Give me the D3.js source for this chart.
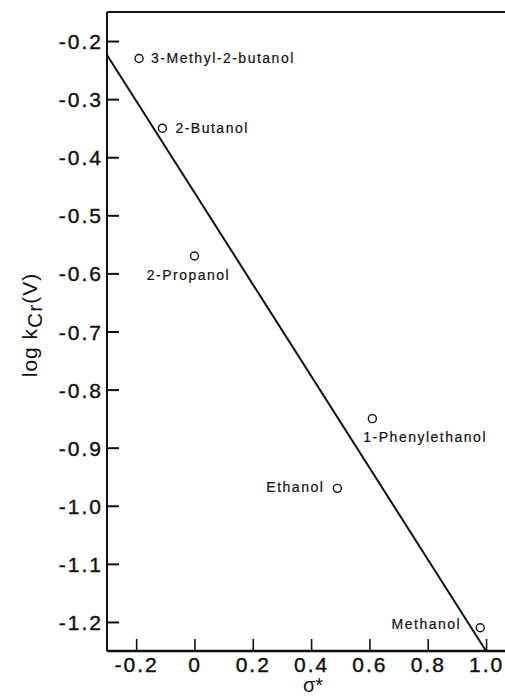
<!DOCTYPE html>
<html>
<head>
<meta charset="utf-8">
<script src="https://cdn.jsdelivr.net/npm/d3@7"></script>
<style>
body { margin:0; background:#fff; }
text { font-family: "Liberation Sans", Arial, sans-serif; fill:#111; }
</style>
</head>
<body>
<div id="chart"></div>
<script>

// data
var alcohols = ["3-Methyl-2-butanol", "2-Butanol", "2-Propanol", "1-Phenylethanol", "Ethanol", "Methanol"];
var sigmaStar = [-0.19, -0.11, 0.0, 0.61, 0.49, 0.98];
var logK = [-0.23, -0.35, -0.57, -0.85, -0.97, -1.21];
var fitX = [-0.3, 1.0];
var fitY = [-0.224, -1.25];
var xTicks = [-0.2, 0, 0.2, 0.4, 0.6, 0.8, 1.0];
var yTicks = [-0.2, -0.3, -0.4, -0.5, -0.6, -0.7, -0.8, -0.9, -1.0, -1.1, -1.2];

var W = 505, H = 697;
var margin = {left: 107, top: 12, right: 0, bottom: 46};

var svg = d3.select("#chart").append("svg")
    .attr("width", W)
    .attr("height", H);

var x = d3.scaleLinear().domain([-0.3, 1.065]).range([margin.left, W - margin.right]);
var y = d3.scaleLinear().domain([-1.25, -0.15]).range([H - margin.bottom, margin.top]);

function fmt(d) { return d === 0 ? "0" : d3.format(".1f")(d).replace("−", "-"); }

// y axis: ticks point inward
var yAxis = d3.axisRight(y).tickValues(yTicks).tickSize(12);
var gy = svg.append("g").attr("transform", "translate(" + margin.left + ",0)").call(yAxis);
gy.select(".domain").remove();
gy.selectAll(".tick line").attr("stroke", "#111").attr("stroke-width", 2);
gy.selectAll(".tick text")
    .attr("x", -4).attr("dy", "0.36em")
    .attr("text-anchor", "end")
    .style("font-size", "21px").style("letter-spacing", "2px")
    .style("stroke", "#111").style("stroke-width", 0.4)
    .text(fmt);

var xAxis = d3.axisTop(x).tickValues(xTicks).tickSize(12);
var gx = svg.append("g").attr("transform", "translate(0," + y(-1.25) + ")").call(xAxis);
gx.select(".domain").remove();
gx.selectAll(".tick line").attr("stroke", "#111").attr("stroke-width", 1.6);
gx.selectAll(".tick text")
    .attr("y", 21).attr("dy", 0)
    .attr("text-anchor", "middle")
    .style("font-size", "21px").style("letter-spacing", "2px")
    .style("stroke", "#111").style("stroke-width", 0.4)
    .text(fmt);

// frame: left, bottom, top
svg.append("line").attr("x1", x(-0.3)).attr("x2", x(-0.3)).attr("y1", y(-0.15)).attr("y2", y(-1.25))
    .attr("stroke", "#111").attr("stroke-width", 2);
svg.append("line").attr("x1", x(-0.3)).attr("x2", W).attr("y1", y(-1.25)).attr("y2", y(-1.25))
    .attr("stroke", "#111").attr("stroke-width", 2.4);
svg.append("line").attr("x1", x(-0.3)).attr("x2", W).attr("y1", y(-0.15)).attr("y2", y(-0.15))
    .attr("stroke", "#111").attr("stroke-width", 2);

// regression line
var line = d3.line().x(function(d) { return x(d[0]); }).y(function(d) { return y(d[1]); });
svg.append("path").datum(d3.zip(fitX, fitY))
    .attr("d", line).attr("fill", "none").attr("stroke", "#111").attr("stroke-width", 2);

// points
var pts = d3.range(alcohols.length).map(function(i) {
  return {name: alcohols[i], sx: sigmaStar[i], ly: logK[i]};
});
svg.selectAll("circle.pt").data(pts).enter().append("circle")
    .attr("class", "pt")
    .attr("cx", function(d) { return x(d.sx); })
    .attr("cy", function(d) { return y(d.ly); })
    .attr("r", 4)
    .attr("fill", "none").attr("stroke", "#111").attr("stroke-width", 1.4);

// label placement relative to each point
var labelPos = {
  "3-Methyl-2-butanol": {dx: 12, dy: 5, anchor: "start"},
  "2-Butanol": {dx: 13, dy: 5, anchor: "start"},
  "2-Propanol": {dx: -6, dy: 24, anchor: "middle"},
  "1-Phenylethanol": {dx: -9, dy: 23, anchor: "start"},
  "Ethanol": {dx: -13, dy: 4, anchor: "end"},
  "Methanol": {dx: -19, dy: 1, anchor: "end"}
};
svg.selectAll("text.lbl").data(pts).enter().append("text")
    .attr("class", "lbl")
    .attr("x", function(d) { return x(d.sx) + labelPos[d.name].dx; })
    .attr("y", function(d) { return y(d.ly) + labelPos[d.name].dy; })
    .attr("text-anchor", function(d) { return labelPos[d.name].anchor; })
    .style("font-size", "14px").style("letter-spacing", "1.5px")
    .style("stroke", "#111").style("stroke-width", 0.2)
    .text(function(d) { return d.name; });

// axis titles
svg.append("text")
    .attr("x", 313).attr("y", 692)
    .attr("text-anchor", "middle")
    .style("font-size", "20px")
    .text("σ*");

var yl = svg.append("text")
    .attr("transform", "translate(37,325) rotate(-90)")
    .attr("text-anchor", "middle")
    .style("font-size", "21px").style("letter-spacing", "1px");
yl.append("tspan").text("log k");
yl.append("tspan").attr("dy", 5).text("Cr");
yl.append("tspan").attr("dy", -5).text("(V)");

</script>
</body>
</html>
